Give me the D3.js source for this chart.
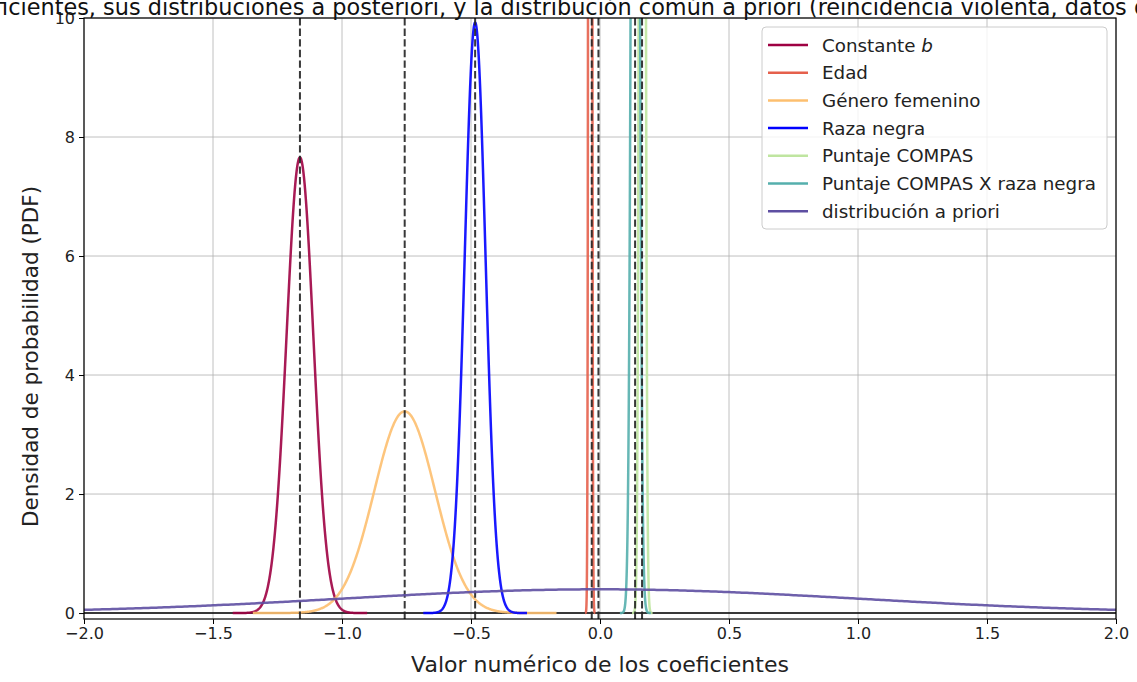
<!DOCTYPE html>
<html>
<head>
<meta charset="utf-8">
<script src="https://cdn.jsdelivr.net/npm/d3@7"></script>
<style>
  html, body { margin: 0; padding: 0; background: #fff; overflow: hidden; }
  svg { display: block; font-family: "DejaVu Sans", sans-serif; }
</style>
</head>
<body>
<svg id="chart" width="1137" height="682"></svg>
<script>
// Posterior distributions of the coefficients (normal approximations)
const seriesNames = ["Constante b", "Edad", "Género femenino", "Raza negra",
                     "Puntaje COMPAS", "Puntaje COMPAS X raza negra"];
const seriesMeans = [-1.163, -0.038, -0.757, -0.484, 0.164, 0.137];
const seriesSds   = [0.0521, 0.004, 0.1177, 0.0402, 0.008, 0.012];

// Shared prior distribution
const priorName = "distribución a priori";
const priorMean = 0;
const priorSd = 1;

// Point estimates marked with dashed vertical lines
const estimates = [-1.163, -0.757, -0.484, -0.032, -0.006, 0.136, 0.163];

// Axis ticks
const xTicks = [-2.0, -1.5, -1.0, -0.5, 0.0, 0.5, 1.0, 1.5, 2.0];
const yTicks = [0, 2, 4, 6, 8, 10];

const seriesColors = ["#9e0142", "#e5604c", "#fdbf6f", "#0000ff", "#bfe5a0", "#55afad"];
const priorColor = "#5e4fa2";

const titleText = "Coeficientes, sus distribuciones a posteriori, y la distribución común a priori (reincidencia violenta, datos de prueba)";

const svg = d3.select("#chart");
const plotLeft = 84, plotRight = 1116, plotTop = 18, plotBottom = 619;

const x = d3.scaleLinear().domain([-2, 2]).range([plotLeft, plotRight]);
const y = d3.scaleLinear().domain([-0.1, 10]).range([plotBottom, plotTop]);

const fmtX = v => d3.format(".1f")(v).replace("-", "\u2212");

const pdf = (v, m, s) => Math.exp(-0.5 * ((v - m) / s) ** 2) / (s * Math.sqrt(2 * Math.PI));

// clip region for plot contents
svg.append("defs").append("clipPath").attr("id", "plot-clip")
  .append("rect").attr("x", plotLeft).attr("y", plotTop)
  .attr("width", plotRight - plotLeft).attr("height", plotBottom - plotTop);

// grid
const grid = svg.append("g").attr("stroke", "#b0b0b0").attr("stroke-width", 0.8);
grid.selectAll(".gx").data(xTicks).join("line")
  .attr("x1", d => x(d)).attr("x2", d => x(d)).attr("y1", plotTop).attr("y2", plotBottom);
grid.selectAll(".gy").data(yTicks).join("line")
  .attr("x1", plotLeft).attr("x2", plotRight).attr("y1", d => y(d)).attr("y2", d => y(d));

const plot = svg.append("g").attr("clip-path", "url(#plot-clip)");

// horizontal reference line at zero density
plot.append("line").attr("x1", plotLeft).attr("x2", plotRight)
  .attr("y1", y(0)).attr("y2", y(0)).attr("stroke", "#000").attr("stroke-width", 1.6);

const line = d3.line().x(d => x(d[0])).y(d => y(d[1]));

function curvePoints(m, s, lo, hi, n) {
  const pts = [];
  for (let i = 0; i <= n; i++) {
    const v = lo + (hi - lo) * i / n;
    pts.push([v, pdf(v, m, s)]);
  }
  return pts;
}

seriesNames.forEach((name, i) => {
  const m = seriesMeans[i], s = seriesSds[i];
  plot.append("path")
    .datum(curvePoints(m, s, m - 5 * s, m + 5 * s, 600))
    .attr("fill", "none")
    .attr("stroke", seriesColors[i])
    .attr("stroke-opacity", 0.9)
    .attr("stroke-width", 2.5)
    .attr("stroke-linejoin", "round")
    .attr("d", line);
});

// dashed estimate markers
plot.selectAll(".est").data(estimates).join("line")
  .attr("x1", d => x(d)).attr("x2", d => x(d))
  .attr("y1", plotTop).attr("y2", plotBottom)
  .attr("stroke", "#222").attr("stroke-opacity", 0.9)
  .attr("stroke-width", 2).attr("stroke-dasharray", "7.4,3.2");

// prior
plot.append("path")
  .datum(curvePoints(priorMean, priorSd, -2, 2, 400))
  .attr("fill", "none").attr("stroke", priorColor).attr("stroke-opacity", 0.9)
  .attr("stroke-width", 2.5).attr("d", line);

// axes
const xAxis = d3.axisBottom(x).tickValues(xTicks).tickFormat(fmtX).tickSize(5).tickPadding(4);
const yAxis = d3.axisLeft(y).tickValues(yTicks).tickFormat(d3.format("d")).tickSize(5).tickPadding(4);

const gx = svg.append("g").attr("transform", `translate(0,${plotBottom})`).call(xAxis);
const gy = svg.append("g").attr("transform", `translate(${plotLeft},0)`).call(yAxis);
[gx, gy].forEach(g => {
  g.select(".domain").remove();
  g.selectAll(".tick line").attr("stroke", "#000").attr("stroke-width", 1);
  g.selectAll(".tick text").attr("fill", "#222").attr("font-size", 16)
    .attr("font-family", "DejaVu Sans, sans-serif");
});

// frame
svg.append("rect").attr("x", plotLeft).attr("y", plotTop)
  .attr("width", plotRight - plotLeft).attr("height", plotBottom - plotTop)
  .attr("fill", "none").attr("stroke", "#000").attr("stroke-width", 1.2);

// labels
svg.append("text").attr("x", (plotLeft + plotRight) / 2).attr("y", 672)
  .attr("text-anchor", "middle").attr("font-size", 22).attr("fill", "#222")
  .text("Valor numérico de los coeficientes");

svg.append("text").attr("transform", `translate(38,${(plotTop + plotBottom) / 2 + 38}) rotate(-90)`)
  .attr("text-anchor", "middle").attr("font-size", 21.5).attr("fill", "#222")
  .text("Densidad de probabilidad (PDF)");

svg.append("text").attr("x", 604).attr("y", 15)
  .attr("text-anchor", "middle").attr("font-size", 22.4).attr("fill", "#111")
  .text(titleText);

// legend
const legendNames = seriesNames.concat([priorName]);
const legendColors = seriesColors.concat([priorColor]);
const lg = svg.append("g").attr("transform", "translate(762,27)");
lg.append("rect").attr("width", 345).attr("height", 202).attr("rx", 4)
  .attr("fill", "#fff").attr("fill-opacity", 0.8)
  .attr("stroke", "#ccc").attr("stroke-width", 1);
const items = lg.selectAll(".item").data(legendNames).join("g")
  .attr("transform", (d, i) => `translate(0,${18 + i * 27.7})`);
items.append("line").attr("x1", 6).attr("x2", 46).attr("y1", 0).attr("y2", 0)
  .attr("stroke", (d, i) => legendColors[i]).attr("stroke-width", 2.5);
items.append("text").attr("x", 60).attr("y", 6.5).attr("font-size", 18.3).attr("fill", "#222")
  .each(function (d) {
    const t = d3.select(this);
    if (d === "Constante b") {
      t.append("tspan").text("Constante ");
      t.append("tspan").attr("font-style", "italic").text("b");
    } else {
      t.text(d);
    }
  });
</script>
</body>
</html>
